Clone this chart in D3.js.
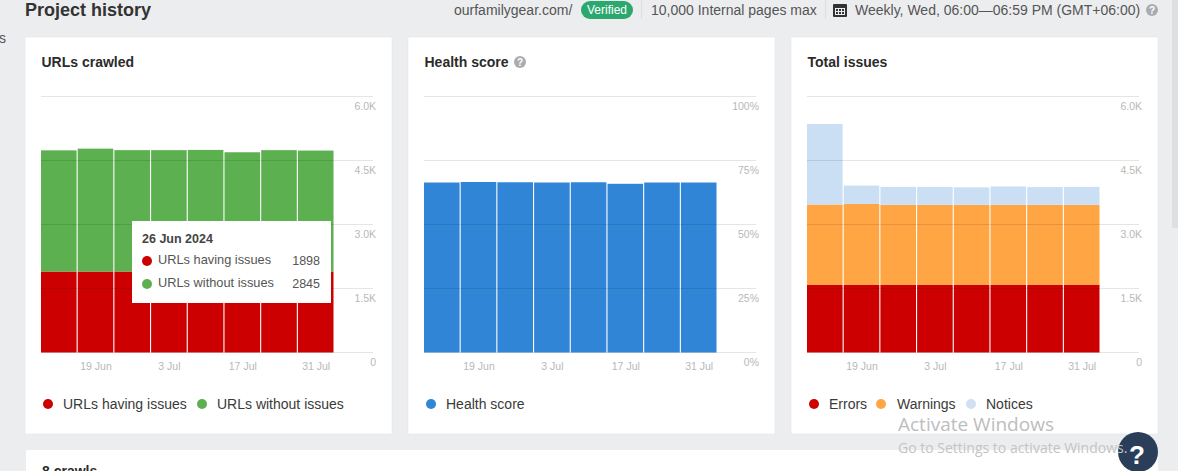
<!DOCTYPE html>
<html>
<head>
<meta charset="utf-8">
<script src="https://cdn.jsdelivr.net/npm/d3@7"></script>
<style>
html, body { margin: 0; padding: 0; background: #ecedef; overflow: hidden; }
svg { display: block; }
text { font-family: "Liberation Sans", Arial, sans-serif; }
</style>
</head>
<body>
<svg id="page" width="1178" height="471"></svg>
<script>
var weeks = ["12 Jun", "19 Jun", "26 Jun", "3 Jul", "10 Jul", "17 Jul", "24 Jul", "31 Jul"];
var weekLabels = ["19 Jun", "3 Jul", "17 Jul", "31 Jul"];

var urlsHavingIssues = [1898, 1898, 1898, 1898, 1898, 1898, 1898, 1898];
var urlsWithoutIssues = [2840, 2880, 2845, 2845, 2850, 2795, 2845, 2835];
var healthScore = [66.4, 66.6, 66.5, 66.4, 66.5, 65.9, 66.4, 66.4];
var errors = [1582, 1582, 1582, 1582, 1582, 1582, 1582, 1582];
var warnings = [1887, 1900, 1880, 1880, 1880, 1880, 1880, 1880];
var notices = [1886, 430, 420, 420, 410, 430, 415, 420];

var countTicks = [0, 1500, 3000, 4500, 6000];
var percentTicks = [0, 25, 50, 75, 100];

var RED = "#cc0000", GREEN = "#5cb050", BLUE = "#3085d6", ORANGE = "#ffa544", PALE = "#cbdff4";

var svg = d3.select("#page");

function countFormat(d) { return d === 0 ? "0" : (d / 1000).toFixed(1) + "K"; }
function percentFormat(d) { return d + "%"; }

function addText(x, y, str, size, color, weight, anchor) {
    return svg.append("text").attr("x", x).attr("y", y).text(str)
        .attr("font-size", size).attr("fill", color)
        .attr("font-weight", weight || "normal")
        .attr("text-anchor", anchor || "start");
}

function helpIcon(cx, cy) {
    svg.append("circle").attr("cx", cx).attr("cy", cy).attr("r", 6).attr("fill", "#a9abae");
    addText(cx, cy + 3.5, "?", 10, "#fff", "bold", "middle");
}

function drawCard(left, title, series, maxValue, ticks, format, legendPos) {
    var g = svg.append("g");
    g.append("rect").attr("x", left).attr("y", 37).attr("width", 367).attr("height", 397)
        .attr("fill", "#fff").attr("stroke", "#e3e4e6").attr("stroke-width", 0.5);

    addText(left + 16.5, 66.5, title, 14, "#2b2b2b", "bold");

    var plotLeft = left + 16;
    var x = d3.scaleBand().domain(weeks).range([plotLeft, plotLeft + 292.5]).paddingInner(0.03).paddingOuter(0);
    var y = d3.scaleLinear().domain([0, maxValue]).range([352.5, 96.5]);

    var stacked = d3.stack().keys(d3.range(series.length)).value(function(d, k) {
        return series[k].values[weeks.indexOf(d)];
    })(weeks);

    g.selectAll("g.layer").data(stacked).enter().append("g").attr("class", "layer")
        .attr("fill", function(d, i) { return series[i].color; })
        .selectAll("rect").data(function(d) { return d; }).enter().append("rect")
        .attr("x", function(d) { return x(d.data); })
        .attr("width", x.bandwidth())
        .attr("y", function(d) { return y(d[1]); })
        .attr("height", function(d) { return y(d[0]) - y(d[1]); });

    // grid shows through the bars, so it goes on top with some alpha
    g.selectAll("line.grid").data(ticks).enter().append("line").attr("class", "grid")
        .attr("x1", plotLeft).attr("x2", plotLeft + 332)
        .attr("y1", function(d) { return y(d); }).attr("y2", function(d) { return y(d); })
        .attr("stroke", "#000").attr("stroke-opacity", 0.1);

    var yAxis = d3.axisRight(y).tickValues(ticks).tickFormat(format).tickSize(0);
    g.append("g").attr("transform", "translate(" + (plotLeft + 335) + ",0)").call(yAxis)
        .call(function(a) {
            a.select(".domain").remove();
            a.selectAll("text").attr("x", 0).attr("dy", "13px").attr("text-anchor", "end")
                .attr("font-size", 10.5).attr("fill", "#b8b8b8")
                .style("font-family", '"Liberation Sans", Arial, sans-serif');
        });

    var xAxis = d3.axisBottom(x).tickValues(weekLabels).tickSize(0);
    g.append("g").attr("transform", "translate(0.5,352.5)").call(xAxis)
        .call(function(a) {
            a.select(".domain").remove();
            a.selectAll("text").attr("y", 10).attr("dy", "0.71em")
                .attr("font-size", 10.5).attr("fill", "#b8b8b8")
                .style("font-family", '"Liberation Sans", Arial, sans-serif');
        });

    series.forEach(function(s, i) {
        svg.append("circle").attr("cx", legendPos[i][0]).attr("cy", 404).attr("r", 5).attr("fill", s.legendColor || s.color);
        addText(legendPos[i][1], 409, s.name, 14, "#3a3a3a");
    });
}

// header strip
addText(25, 16, "Project history", 18, "#333", "bold");
addText(-1, 43, "s", 14, "#555");
addText(454, 15, "ourfamilygear.com/", 14, "#555");
svg.append("rect").attr("x", 581).attr("y", 1).attr("width", 52).attr("height", 18).attr("rx", 9).attr("fill", "#2aa86e");
addText(607, 14, "Verified", 12, "#fff", "normal", "middle");
svg.append("line").attr("x1", 641.5).attr("x2", 641.5).attr("y1", 0).attr("y2", 19).attr("stroke", "#dcdddf");
addText(651, 15, "10,000 Internal pages max", 14, "#555");
svg.append("line").attr("x1", 825.5).attr("x2", 825.5).attr("y1", 0).attr("y2", 19).attr("stroke", "#dcdddf");

var cal = svg.append("g").attr("transform", "translate(833,3)");
cal.append("rect").attr("width", 14).attr("height", 13).attr("y", 1).attr("rx", 1).attr("fill", "#333");
cal.append("rect").attr("x", 2).attr("y", 5).attr("width", 10).attr("height", 7).attr("fill", "#ecedef");
cal.selectAll("rect.day").data(d3.range(6)).enter().append("rect").attr("class", "day")
    .attr("x", function(d) { return 3 + (d % 3) * 3; })
    .attr("y", function(d) { return 6 + Math.floor(d / 3) * 3; })
    .attr("width", 2).attr("height", 2).attr("fill", "#333");

addText(855, 15, "Weekly, Wed, 06:00—06:59 PM (GMT+06:00)", 14, "#555");
helpIcon(1152, 10);

drawCard(25, "URLs crawled", [
    {name: "URLs having issues", values: urlsHavingIssues, color: RED},
    {name: "URLs without issues", values: urlsWithoutIssues, color: GREEN}
], 6000, countTicks, countFormat, [[48, 63], [202, 217]]);

drawCard(408, "Health score", [
    {name: "Health score", values: healthScore, color: BLUE}
], 100, percentTicks, percentFormat, [[431, 446]]);
helpIcon(520, 62);

drawCard(791, "Total issues", [
    {name: "Errors", values: errors, color: RED},
    {name: "Warnings", values: warnings, color: ORANGE},
    {name: "Notices", values: notices, color: PALE, legendColor: "#d3dff2"}
], 6000, countTicks, countFormat, [[814, 829], [881, 897], [971, 986]]);

// tooltip over the first card
var tipIndex = weeks.indexOf("26 Jun");
svg.append("rect").attr("x", 132).attr("y", 221).attr("width", 199).attr("height", 82).attr("fill", "#fff");
addText(142, 243, "26 Jun 2024", 12.5, "#444", "bold");
[
    {name: "URLs having issues", value: urlsHavingIssues[tipIndex], color: RED, cy: 261},
    {name: "URLs without issues", value: urlsWithoutIssues[tipIndex], color: GREEN, cy: 284}
].forEach(function(row) {
    svg.append("circle").attr("cx", 147).attr("cy", row.cy).attr("r", 5).attr("fill", row.color);
    addText(158, row.cy + 3, row.name, 12.8, "#555");
    addText(320, row.cy + 4, row.value, 12.5, "#555", "normal", "end");
});

// next card, cut off by the window
svg.append("rect").attr("x", 26).attr("y", 450).attr("width", 1132).attr("height", 30).attr("fill", "#fff");
addText(42, 476, "8 crawls", 14, "#2b2b2b", "bold");

// scrollbar thumb
svg.append("rect").attr("x", 1172).attr("y", 0).attr("width", 6).attr("height", 228).attr("fill", "#dedfe1");

// desktop overlay, watermark sits over the help button
svg.append("circle").attr("cx", 1138).attr("cy", 452).attr("r", 20).attr("fill", "#2a3e59");
addText(1137, 464, "?", 26, "#fff", "bold", "middle");
addText(898, 431, "Activate Windows", 19, "#bdbdbd").style("font-family", '"Open Sans", sans-serif');
addText(898, 453, "Go to Settings to activate Windows.", 14, "#c4c4c4").style("font-family", '"Open Sans", sans-serif');
</script>
</body>
</html>
